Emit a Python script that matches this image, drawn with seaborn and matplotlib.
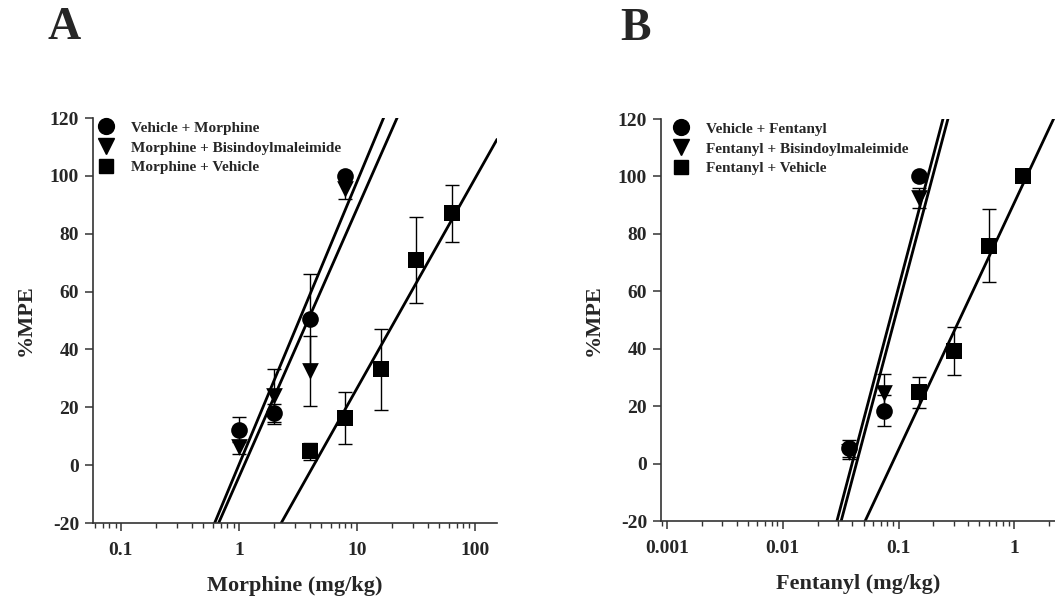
import numpy as np
import pandas as pd
import matplotlib
matplotlib.use("Agg")
import matplotlib.pyplot as plt
import seaborn as sns
from matplotlib.ticker import LogLocator, FixedLocator, FixedFormatter, NullFormatter
from matplotlib.lines import Line2D

sns.set_theme(style="ticks")
plt.rcParams['font.family'] = ['Liberation Serif', 'DejaVu Serif']
plt.rcParams['font.weight'] = 'bold'
plt.rcParams['axes.unicode_minus'] = False

# ---------------- Panel A data (Morphine) ----------------
a_labels = ["Vehicle + Morphine", "Morphine + Bisindoylmaleimide", "Morphine + Vehicle"]
a_dose_1 = [1, 2, 4, 8]
a_mpe_1 = [12.2, 18.0, 50.5, 100.0]
a_err_1 = [4.3, 3.0, 15.5, 0.0]
a_dose_2 = [1, 2, 4, 8]
a_mpe_2 = [6.2, 23.8, 32.6, 95.4]
a_err_2 = [2.5, 9.6, 12.2, 3.4]
a_dose_3 = [4, 8, 16, 32, 64]
a_mpe_3 = [4.8, 16.4, 33.2, 70.9, 87.0]
a_err_3 = [3.0, 9.0, 14.0, 15.0, 9.7]
# regression lines: %MPE = slope * log10(dose) + intercept
a_slope = [97.8, 92.6, 72.5]
a_intercept = [0.1, -4.1, -46.0]
a_xlim = [0.058, 154]
a_xticks = [0.1, 1, 10, 100]
a_xticklabels = ["0.1", "1", "10", "100"]

# ---------------- Panel B data (Fentanyl) ----------------
b_labels = ["Vehicle + Fentanyl", "Fentanyl + Bisindoylmaleimide", "Fentanyl + Vehicle"]
b_dose_1 = [0.0375, 0.075, 0.15]
b_mpe_1 = [5.3, 18.4, 100.0]
b_err_1 = [3.0, 5.4, 0.0]
b_dose_2 = [0.0375, 0.075, 0.15]
b_mpe_2 = [4.2, 24.5, 92.4]
b_err_2 = [2.5, 6.7, 3.4]
b_dose_3 = [0.15, 0.3, 0.6, 1.2]
b_mpe_3 = [24.8, 39.2, 75.9, 100.0]
b_err_3 = [5.5, 8.2, 12.7, 0.0]
b_slope = [152.8, 151.8, 86.0]
b_intercept = [214.1, 207.0, 90.8]
b_xlim = [0.000887, 2.25]
b_xticks = [0.001, 0.01, 0.1, 1]
b_xticklabels = ["0.001", "0.01", "0.1", "1"]

yticks = [-20, 0, 20, 40, 60, 80, 100, 120]
markers = ["o", "v", "s"]
msizes = [12, 12, 11]

fig = plt.figure(figsize=(10.55, 6.04), dpi=100)
axA = fig.add_axes([93/1055, 1-523/604, 404/1055, 405/604])
axB = fig.add_axes([661/1055, 1-521/604, 394/1055, 402/604])


def draw_panel(ax, doses, mpes, errs, labels, slopes, intercepts, xlim, xticks,
               xticklabels, xlabel, leg_x):
    for i in range(3):
        df = pd.DataFrame({"dose": doses[i], "mpe": mpes[i], "err": errs[i]})
        ax.errorbar(df["dose"], df["mpe"], yerr=df["err"], fmt="none",
                    ecolor="black", elinewidth=1.0, capsize=5, capthick=1.0, zorder=2)
        sns.scatterplot(data=df, x="dose", y="mpe", marker=markers[i], s=msizes[i]**2,
                        color="black", edgecolor="black", linewidth=0, ax=ax, zorder=3,
                        legend=False)
        # regression line
        lx = np.logspace(np.log10(xlim[0]), np.log10(xlim[1]), 400)
        ly = slopes[i] * np.log10(lx) + intercepts[i]
        ax.plot(lx, ly, color="black", lw=2.0, zorder=2)
    ax.set_xscale("log")
    ax.set_xlim(xlim)
    ax.set_ylim(-20, 120)
    ax.set_yticks(yticks)
    ax.xaxis.set_major_locator(FixedLocator(xticks))
    ax.xaxis.set_major_formatter(FixedFormatter(xticklabels))
    ax.xaxis.set_minor_locator(LogLocator(base=10, subs=np.arange(2, 10), numticks=20))
    ax.xaxis.set_minor_formatter(NullFormatter())
    for s in ["top", "right"]:
        ax.spines[s].set_visible(False)
    for s in ["left", "bottom"]:
        ax.spines[s].set_linewidth(1.2)
        ax.spines[s].set_color("#333333")
    ax.tick_params(axis="both", which="major", direction="out", length=6, width=1.1,
                   color="#333333", labelsize=14, pad=4)
    ax.tick_params(axis="x", which="minor", direction="out", length=3.5, width=1.0,
                   color="#333333")
    ax.tick_params(axis="x", which="major", pad=8)
    for lab in ax.get_xticklabels() + ax.get_yticklabels():
        lab.set_fontweight("bold")
    ax.set_xlabel(xlabel, fontsize=16, fontweight="bold", labelpad=12)
    ax.set_ylabel("%MPE", fontsize=16, fontweight="bold", labelpad=10)
    handles = [Line2D([], [], marker=markers[i], color="black", linestyle="none",
                      markersize=msizes[i] * 0.95) for i in range(3)]
    ax.legend(handles, labels, loc="upper left", bbox_to_anchor=(leg_x, 1.015),
              frameon=False, prop={"family": "Liberation Serif", "weight": "bold", "size": 11},
              handletextpad=1.0, labelspacing=0.4, handlelength=1.2, borderaxespad=0.2)
    return ax


draw_panel(axA, [a_dose_1, a_dose_2, a_dose_3], [a_mpe_1, a_mpe_2, a_mpe_3],
           [a_err_1, a_err_2, a_err_3], a_labels, a_slope, a_intercept,
           a_xlim, a_xticks, a_xticklabels, "Morphine (mg/kg)", -0.012)
draw_panel(axB, [b_dose_1, b_dose_2, b_dose_3], [b_mpe_1, b_mpe_2, b_mpe_3],
           [b_err_1, b_err_2, b_err_3], b_labels, b_slope, b_intercept,
           b_xlim, b_xticks, b_xticklabels, "Fentanyl (mg/kg)", 0.005)

fig.text(48/1055, 1-39/604, "A", fontsize=33, fontweight="bold", ha="left", va="baseline")
fig.text(620/1055, 1-40/604, "B", fontsize=33, fontweight="bold", ha="left", va="baseline")

fig.savefig("out.png", dpi=100)
